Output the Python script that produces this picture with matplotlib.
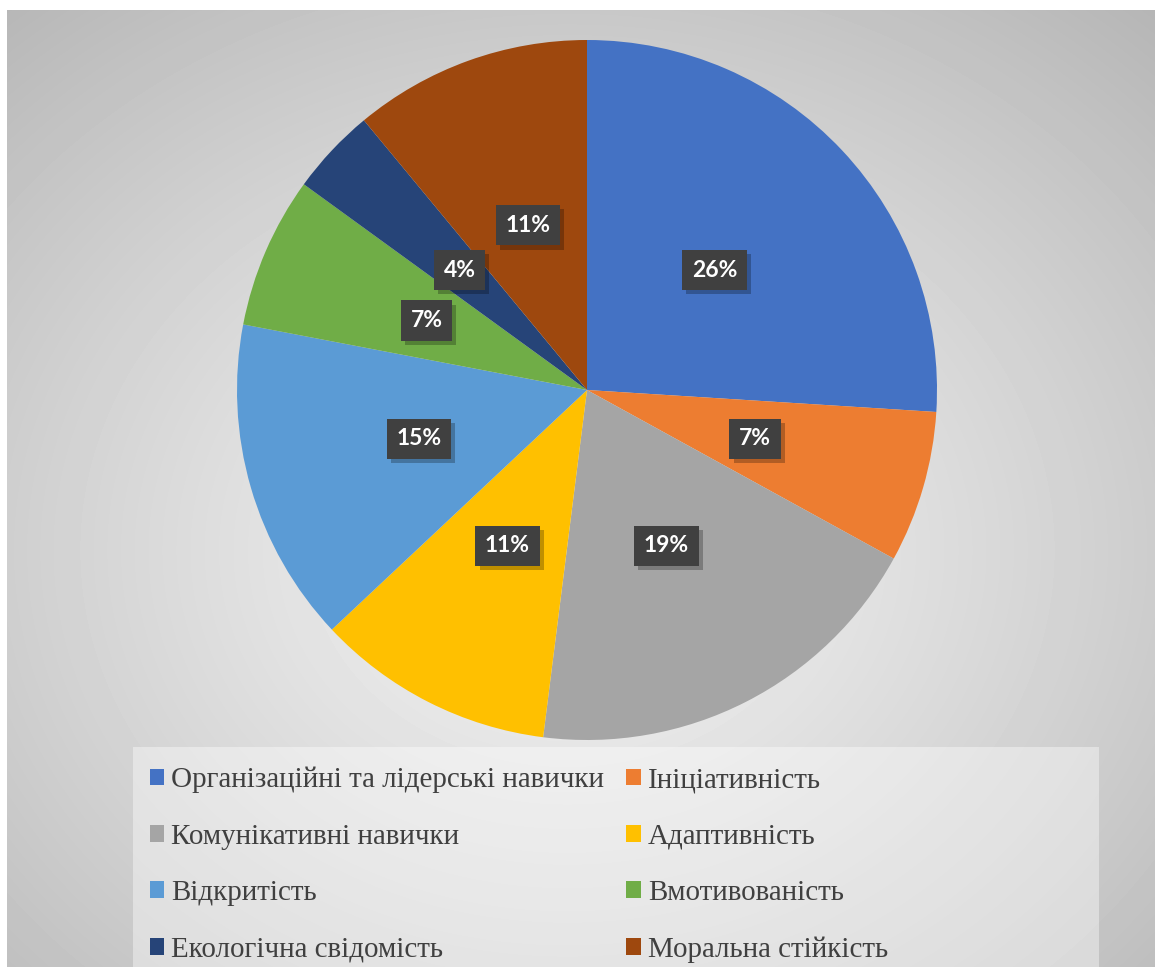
import numpy as np
import matplotlib.pyplot as plt
import matplotlib.patheffects as pe
from matplotlib.patches import Rectangle

# data
labels = ['Організаційні та лідерські навички', 'Ініціативність',
          'Комунікативні навички', 'Адаптивність',
          'Відкритість', 'Вмотивованість',
          'Екологічна свідомість', 'Моральна стійкість']
values = [26, 7, 19, 11, 15, 7, 4, 11]
colors = ['#4472C4', '#ED7D31', '#A5A5A5', '#FFC000',
          '#5B9BD5', '#70AD47', '#264478', '#9E480E']

W, H = 1155, 967
fig = plt.figure(figsize=(W / 100, H / 100), dpi=100, facecolor='white')

# gradient background of the chart area
bg = fig.add_axes([7 / W, 0, 1 - 7 / W, 1 - 10 / H])
bg.set_axis_off()
yy, xx = np.mgrid[0:957, 0:1148]
d = np.hypot((xx - 560) / 1148, (yy - 540) / 957)
shade = 0.95 - 0.33 * d ** 1.2
bg.imshow(shade, cmap='gray', vmin=0, vmax=1, aspect='auto',
          extent=[0, 1148, 957, 0], interpolation='bilinear')
bg.set_xlim(0, 1148)
bg.set_ylim(957, 0)
# legend panel
bg.add_patch(Rectangle((133 - 7, 747 - 10), 1099 - 133, 230,
                       facecolor='white', alpha=0.4, edgecolor='none'))

# pie
cx, cy, R = 587, 390, 350
ax = fig.add_axes([(cx - R) / W, (H - cy - R) / H, 2 * R / W, 2 * R / H])
wedges, _ = ax.pie(values, colors=colors, startangle=90, counterclock=False,
                   radius=1, wedgeprops=dict(linewidth=0))
ax.set_xlim(-1, 1)
ax.set_ylim(-1, 1)
ax.set_aspect('equal')

# data labels
cum = np.cumsum([0] + values[:-1])
for v, c in zip(values, cum):
    ang = np.deg2rad(90 - (c + v / 2) / sum(values) * 360)
    x, y = 0.5 * np.cos(ang), 0.5 * np.sin(ang)
    t = ax.text(x, y, f'{v}%', ha='center', va='center', fontsize=16.5,
                fontweight='bold', family='Lato', color='white',
                bbox=dict(boxstyle='square,pad=0.42', facecolor='#404040',
                          edgecolor='none'))
    t.get_bbox_patch().set_path_effects([
        pe.SimplePatchShadow(offset=(3, -3), shadow_rgbFace='black', alpha=0.25),
        pe.Normal()])

# legend, filled row by row
order = [0, 2, 4, 6, 1, 3, 5, 7]
leg = fig.legend([wedges[i] for i in order], [labels[i] for i in order],
                 ncol=2, loc='upper left',
                 bbox_to_anchor=(138 / W, 1 - 755 / H),
                 frameon=False, prop={'family': 'Liberation Serif', 'size': 20.9},
                 handlelength=0.5, handleheight=0.5, handletextpad=0.25,
                 labelspacing=1.05, columnspacing=0.75, borderaxespad=0)
for t in leg.get_texts():
    t.set_color('#404040')

fig.savefig('out.png', dpi=100, facecolor='white')
